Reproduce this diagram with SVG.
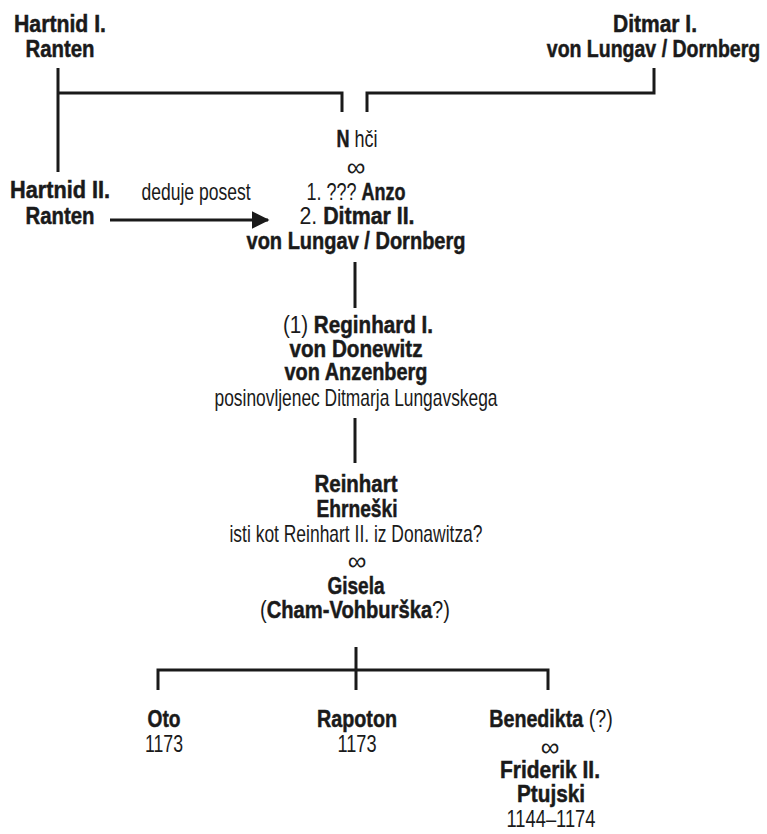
<svg xmlns="http://www.w3.org/2000/svg" width="767" height="834" viewBox="0 0 767 834">
<defs>
<style>
text{font-family:"Liberation Sans","DejaVu Sans Condensed",sans-serif;font-size:24px;fill:#1a1a1a;text-anchor:middle}
.b{font-weight:bold;stroke:#1a1a1a;stroke-width:0.5}
.l{font-weight:normal;stroke:none}
.inf{font-size:26px}
.ln{fill:none;stroke:#1a1a1a;stroke-width:3}
</style>
<marker id="ah" markerWidth="6" markerHeight="6" refX="5.5" refY="3" orient="auto" markerUnits="strokeWidth">
<path d="M0,0 L6,3 L0,6 Z" fill="#1a1a1a"/>
</marker>
</defs>
<rect width="767" height="834" fill="#fff"/>
<g id="connectors">
<path class="ln" d="M58,68 V172 M58,93 H342 V112"/>
<path class="ln" d="M654,68 V93 H367 V112"/>
<path class="ln" d="M110,220 H268" marker-end="url(#ah)"/>
<path class="ln" d="M355,262 V308"/>
<path class="ln" d="M355,418 V463"/>
<path class="ln" d="M356,647 V690 M158,690 V670 H548 V690"/>
</g>
<g id="hartnid1">
<text class="b" x="60" y="32" textLength="92" lengthAdjust="spacingAndGlyphs">Hartnid I.</text>
<text class="b" x="60" y="57" textLength="69" lengthAdjust="spacingAndGlyphs">Ranten</text>
</g>
<g id="ditmar1">
<text class="b" x="655" y="32" textLength="84" lengthAdjust="spacingAndGlyphs">Ditmar I.</text>
<text class="b" x="0" y="0" transform="translate(653.5,57) scale(0.813,1)">von Lungav / Dornberg</text>
</g>
<g id="hartnid2">
<text class="b" x="60" y="198" textLength="100" lengthAdjust="spacingAndGlyphs">Hartnid II.</text>
<text class="b" x="60" y="224" textLength="69" lengthAdjust="spacingAndGlyphs">Ranten</text>
</g>
<g id="edge-label">
<text class="l" x="196" y="200" textLength="109" lengthAdjust="spacingAndGlyphs">deduje posest</text>
</g>
<g id="nhci">
<text x="0" y="0" transform="translate(357,147) scale(0.75,1)"><tspan class="b">N</tspan><tspan class="l"> hči</tspan></text>
<text class="l inf" x="356" y="176">∞</text>
<text x="0" y="0" transform="translate(356,200) scale(0.75,1)"><tspan class="l">1. ??? </tspan><tspan class="b">Anzo</tspan></text>
<text x="0" y="0" transform="translate(357,224) scale(0.89,1)"><tspan class="l">2. </tspan><tspan class="b">Ditmar II.</tspan></text>
<text class="b" x="356" y="249" textLength="219" lengthAdjust="spacingAndGlyphs">von Lungav / Dornberg</text>
</g>
<g id="reginhard">
<text x="0" y="0" transform="translate(358,333) scale(0.86,1)"><tspan class="l">(1) </tspan><tspan class="b">Reginhard I.</tspan></text>
<text class="b" x="356" y="357" textLength="133" lengthAdjust="spacingAndGlyphs">von Donewitz</text>
<text class="b" x="356" y="380" textLength="143" lengthAdjust="spacingAndGlyphs">von Anzenberg</text>
<text class="l" x="356" y="406" textLength="283" lengthAdjust="spacingAndGlyphs">posinovljenec Ditmarja Lungavskega</text>
</g>
<g id="reinhart">
<text class="b" x="356" y="492" textLength="83" lengthAdjust="spacingAndGlyphs">Reinhart</text>
<text class="b" x="357" y="517" textLength="81" lengthAdjust="spacingAndGlyphs">Ehrneški</text>
<text class="l" x="356" y="542" textLength="253" lengthAdjust="spacingAndGlyphs">isti kot Reinhart II. iz Donawitza?</text>
<text class="l inf" x="357" y="570">∞</text>
<text class="b" x="356" y="594" textLength="57" lengthAdjust="spacingAndGlyphs">Gisela</text>
<text x="0" y="0" transform="translate(355,618) scale(0.84,1)"><tspan class="l">(</tspan><tspan class="b">Cham-Vohburška</tspan><tspan class="l">?)</tspan></text>
</g>
<g id="oto">
<text class="b" x="164" y="727" textLength="33" lengthAdjust="spacingAndGlyphs">Oto</text>
<text class="l" x="164" y="752" textLength="38" lengthAdjust="spacingAndGlyphs">1173</text>
</g>
<g id="rapoton">
<text class="b" x="357" y="727" textLength="80" lengthAdjust="spacingAndGlyphs">Rapoton</text>
<text class="l" x="357" y="752" textLength="39" lengthAdjust="spacingAndGlyphs">1173</text>
</g>
<g id="benedikta">
<text x="0" y="0" transform="translate(551,727) scale(0.82,1)"><tspan class="b">Benedikta</tspan><tspan class="l"> (?)</tspan></text>
<text class="l inf" x="550" y="756">∞</text>
<text class="b" x="550" y="778" textLength="100" lengthAdjust="spacingAndGlyphs">Friderik II.</text>
<text class="b" x="551" y="802" textLength="68" lengthAdjust="spacingAndGlyphs">Ptujski</text>
<text class="l" x="551" y="827" textLength="89" lengthAdjust="spacingAndGlyphs">1144–1174</text>
</g>
</svg>
